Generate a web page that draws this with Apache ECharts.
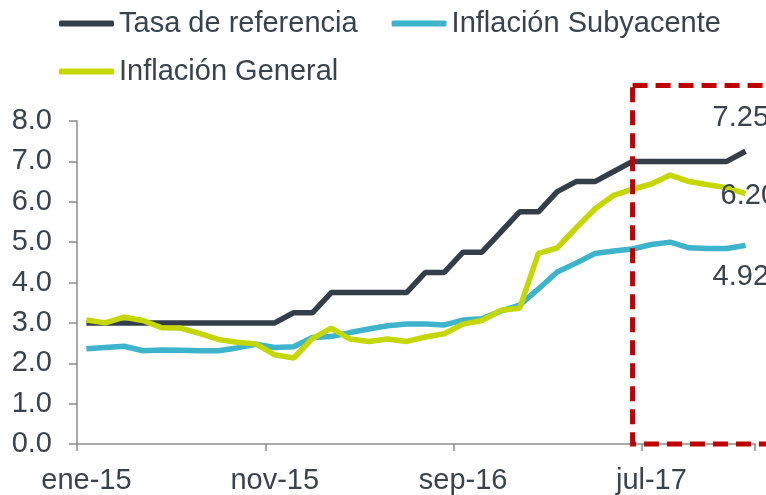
<!DOCTYPE html>
<html>
<head>
<meta charset="utf-8">
<script src="https://cdn.jsdelivr.net/npm/echarts@6/dist/echarts.min.js"></script>
<style>
  html, body { margin: 0; padding: 0; background: #fff; }
  #chart { width: 766px; height: 495px; }
</style>
</head>
<body>
<div id="chart"></div>
<script>
const meses = [
  'ene-15', 'feb-15', 'mar-15', 'abr-15', 'may-15', 'jun-15', 'jul-15', 'ago-15', 'sep-15', 'oct-15', 'nov-15', 'dic-15',
  'ene-16', 'feb-16', 'mar-16', 'abr-16', 'may-16', 'jun-16', 'jul-16', 'ago-16', 'sep-16', 'oct-16', 'nov-16', 'dic-16',
  'ene-17', 'feb-17', 'mar-17', 'abr-17', 'may-17', 'jun-17', 'jul-17', 'ago-17', 'sep-17', 'oct-17', 'nov-17', 'dic-17'
]
const tasa = [
  3, 3, 3, 3, 3, 3, 3, 3, 3, 3, 3, 3.25,
  3.25, 3.75, 3.75, 3.75, 3.75, 3.75, 4.25, 4.25, 4.75, 4.75, 5.25, 5.75,
  5.75, 6.25, 6.5, 6.5, 6.75, 7, 7, 7, 7, 7, 7, 7.25
]
const subyacente = [
  2.36, 2.39, 2.42, 2.31, 2.33, 2.32, 2.31, 2.31, 2.38, 2.47, 2.39, 2.41,
  2.64, 2.66, 2.76, 2.85, 2.93, 2.97, 2.97, 2.95, 3.07, 3.10, 3.29, 3.44,
  3.84, 4.26, 4.48, 4.72, 4.78, 4.83, 4.94, 5.00, 4.86, 4.84, 4.84, 4.92
]
const general = [
  3.07, 3.00, 3.14, 3.06, 2.88, 2.87, 2.74, 2.59, 2.52, 2.48, 2.21, 2.13,
  2.61, 2.87, 2.60, 2.54, 2.60, 2.54, 2.65, 2.73, 2.97, 3.06, 3.31, 3.36,
  4.72, 4.86, 5.35, 5.82, 6.16, 6.31, 6.44, 6.66, 6.50, 6.42, 6.35, 6.20
]
const yTicks = [0, 1, 2, 3, 4, 5, 6, 7, 8]

// recuadro punteado: desde jun-17 hasta el borde derecho
const boxStart = 'jun-17'
const boxTop = 8.88

const TEXT = '#38434d'
const FONT = 'Liberation Sans, Arial, sans-serif'
const colors = ['#333e48', '#3db4cc', '#c5d700']

// etiqueta del ultimo punto
const withEndLabel = (arr, offset) => arr.map((v, i) => {
  if (i !== arr.length - 1) return v
  return {
    value: v,
    label: {
      show: true,
      position: 'inside',
      align: 'left',
      verticalAlign: 'middle',
      offset: offset,
      formatter: (p) => p.value.toFixed(2),
      color: TEXT,
      fontSize: 29,
      fontFamily: FONT
    }
  }
})

const lineSeries = (name, data, color, offset) => ({
  name: name,
  type: 'line',
  data: withEndLabel(data, offset),
  symbol: 'circle',
  symbolSize: 0,
  showSymbol: true,
  showAllSymbol: true,
  color: color,
  lineStyle: { width: 5.5, color: color },
  label: { show: false },
  emphasis: { disabled: true },
  animation: false
})

const legendStyle = {
  left: 59,
  orient: 'horizontal',
  icon: 'roundRect',
  itemWidth: 55,
  itemHeight: 6,
  itemGap: 34,
  padding: 0,
  textStyle: { color: TEXT, fontSize: 29, fontFamily: FONT }
}

const chart = echarts.init(document.getElementById('chart'))
const option = {
  backgroundColor: '#fff',
  animation: false,
  legend: [
    Object.assign({ top: 9, data: ['Tasa de referencia', 'Inflación Subyacente'] }, legendStyle),
    Object.assign({ top: 57, data: ['Inflación General'] }, legendStyle)
  ],
  grid: { left: 77, right: 11, top: 121, bottom: 48 },
  xAxis: {
    type: 'category',
    data: meses,
    boundaryGap: true,
    axisLine: { lineStyle: { color: '#8c8c8c', width: 1.5 } },
    axisTick: { show: true, interval: 9, length: 7, lineStyle: { color: '#8c8c8c', width: 1.5 } },
    axisLabel: { interval: 9, margin: 22, color: TEXT, fontSize: 29, fontFamily: FONT },
    splitLine: { show: false }
  },
  yAxis: {
    type: 'value',
    min: yTicks[0],
    max: yTicks[yTicks.length - 1],
    interval: 1,
    axisLine: { show: true, lineStyle: { color: '#8c8c8c', width: 1.5 } },
    axisTick: { show: true, length: 8, lineStyle: { color: '#8c8c8c', width: 1.5 } },
    axisLabel: { margin: 25, color: TEXT, fontSize: 29, fontFamily: FONT, formatter: v => v.toFixed(1) },
    splitLine: { show: false }
  },
  series: [
    lineSeries('Tasa de referencia', tasa, colors[0], [-33, -33]),
    lineSeries('Inflación Subyacente', subyacente, colors[1], [-33, 32]),
    lineSeries('Inflación General', general, colors[2], [-25, 2])
  ]
}
chart.setOption(option)

const x0 = chart.convertToPixel({ xAxisIndex: 0 }, boxStart)
const y0 = chart.convertToPixel({ yAxisIndex: 0 }, boxTop)
const y1 = chart.convertToPixel({ yAxisIndex: 0 }, 0)
chart.setOption({
  graphic: [{
    type: 'rect',
    shape: { x: x0, y: y0, width: 800 - x0, height: y1 - y0 },
    style: { fill: 'none', stroke: '#c00000', lineWidth: 5, lineDash: [15, 8] },
    z: 100,
    silent: true
  }]
})
</script>
</body>
</html>
